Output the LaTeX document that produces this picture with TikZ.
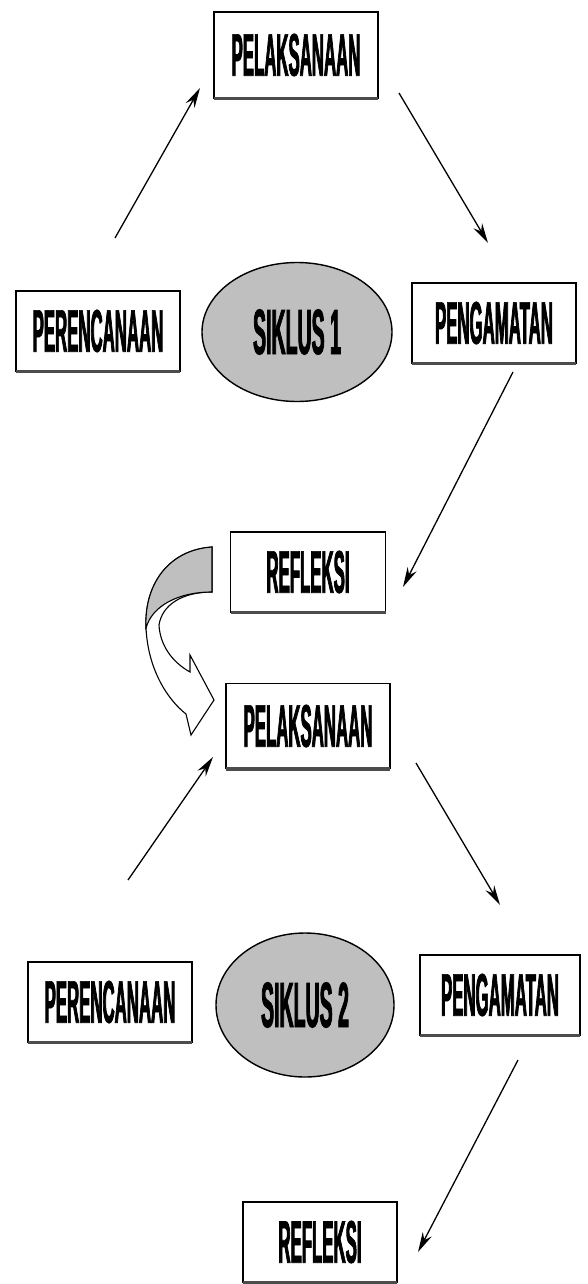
\documentclass[tikz,border=0pt]{standalone}
\usepackage{fontspec}
\newfontfamily\stagefont[FakeStretch=0.28,BoldFeatures={FakeBold=1.2}]{Liberation Sans}
\newfontfamily\cyclefont[FakeStretch=0.305,BoldFeatures={FakeBold=1.2}]{Liberation Sans}
\usepackage{tikz}
\usetikzlibrary{arrows.meta,shapes.geometric}
\newcommand\lbl[1]{\mbox{\bfseries #1}}

\begin{document}
\begin{tikzpicture}[x=1pt,y=-1pt,
  stage/.style={draw,line width=1.2pt,fill=white,minimum width=164pt,minimum height=80pt,
    inner sep=0pt,font=\stagefont\fontsize{60}{64}\selectfont},
  cycle/.style={ellipse,draw,line width=1.4pt,fill=black!25,inner sep=0pt,
    font=\cyclefont\fontsize{64}{68}\selectfont},
  go/.style={line width=1.3pt,-{Stealth[length=20pt,width=10pt]}}]
\useasboundingbox (0,0) rectangle (587,1284);
% siklus 1
\node[stage,minimum height=86pt] (pel1) at (296,55) {\lbl{PELAKSANAAN}};
\node[stage] (per1) at (98,331) {\lbl{PERENCANAAN}};
\node[cycle,minimum width=190pt,minimum height=139pt] (sik1) at (297,332) {\lbl{SIKLUS 1}};
\node[stage] (pen1) at (494,323) {\lbl{PENGAMATAN}};
\node[stage,minimum width=155pt] (ref1) at (308,572) {\lbl{REFLEKSI}};
% siklus 2
\node[stage,minimum height=85pt] (pel2) at (308,726) {\lbl{PELAKSANAAN}};
\node[stage] (per2) at (110,1002) {\lbl{PERENCANAAN}};
\node[cycle,minimum width=178pt,minimum height=144pt] (sik2) at (305,1005) {\lbl{SIKLUS 2}};
\node[stage,minimum width=160pt] (pen2) at (500,995) {\lbl{PENGAMATAN}};
\node[stage,minimum width=154pt] (ref2) at (320,1242) {\lbl{REFLEKSI}};
% thick lower edge of the boxes
\foreach\n in {pel1,per1,pen1,ref1,pel2,per2,pen2,ref2}
 \draw[line width=3.5pt,black!70] ([xshift=0.6pt]\n.south west) -- ([xshift=-0.6pt]\n.south east);
% arrow ends
\coordinate (a1) at (115,238); \coordinate (b1) at (200,88);
\coordinate (a2) at (399,93);  \coordinate (b2) at (488,243);
\coordinate (a3) at (513,372); \coordinate (b3) at (403,587);
\coordinate (a4) at (128,880); \coordinate (b4) at (213,757);
\coordinate (a5) at (416,763); \coordinate (b5) at (500,905);
\coordinate (a6) at (518,1060); \coordinate (b6) at (418,1252);
\foreach\i in {1,...,6}
 \draw[go] (a\i) -- (b\i);
% curved block arrow from refleksi to pelaksanaan
\filldraw[fill=white,line width=1.1pt] (212,547) .. controls (168,550) and (144,585) .. (146,628)
  .. controls (148,670) and (168,700) .. (186,714) -- (191,735) -- (214,700) -- (190,655)
  -- (190,672) .. controls (172,662) and (160,645) .. (159,625)
  .. controls (162,605) and (182,592) .. (212,592) -- cycle;
\filldraw[fill=black!25,line width=1.1pt] (212,547) .. controls (168,550) and (144,585) .. (146,628)
  .. controls (152,606) and (178,592) .. (212,592) -- cycle;
\end{tikzpicture}
\end{document}
